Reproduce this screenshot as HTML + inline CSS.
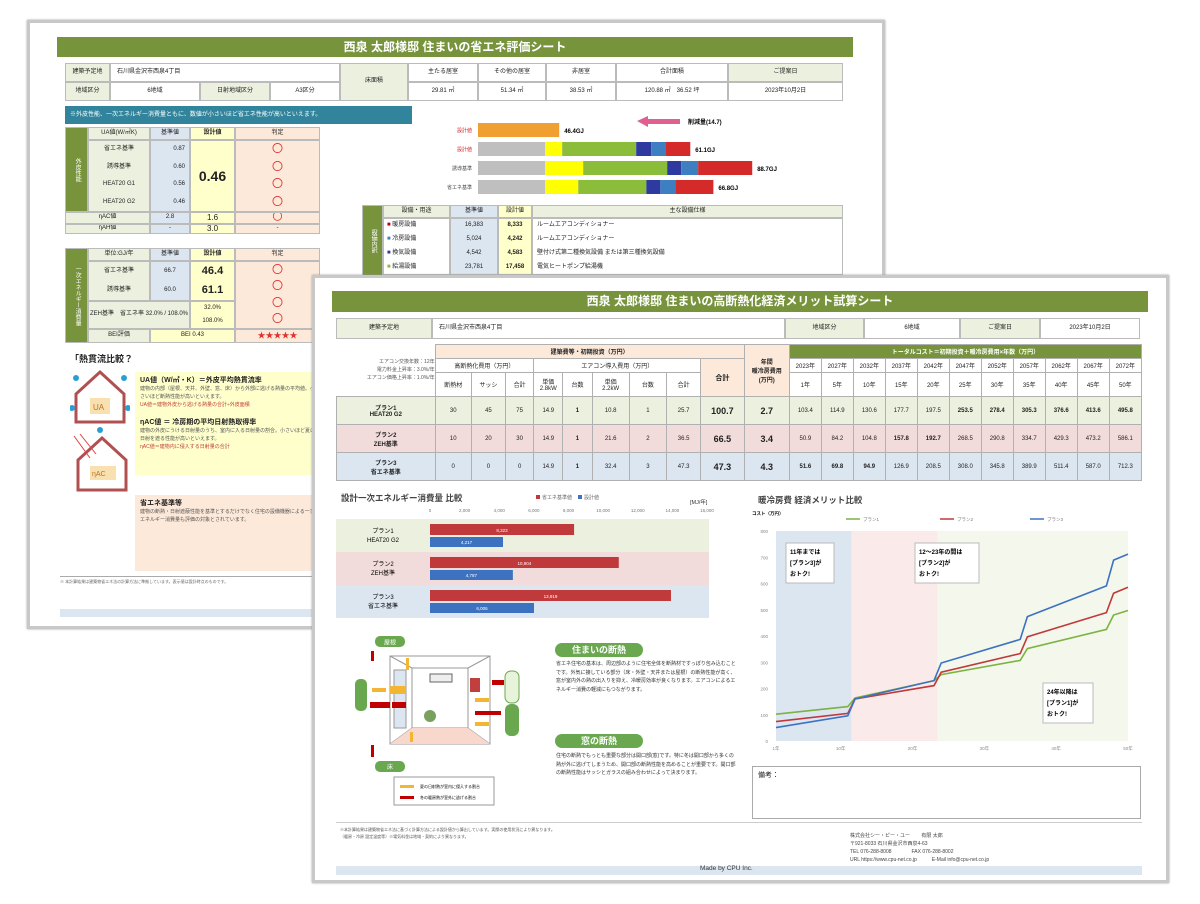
<!DOCTYPE html>
<html><head><meta charset="utf-8">
<style>
*{box-sizing:border-box;margin:0;padding:0}
body{width:1200px;height:904px;background:#fff;position:relative;overflow:hidden;font-family:"Liberation Sans","Noto Sans CJK JP",sans-serif;color:#222}
.a{position:absolute}
.sheet{position:absolute;background:#fff;border:3px solid #c8c8c8;box-shadow:0 0 2px #999}
.title{position:absolute;background:#77933c;color:#fff;font-weight:bold;text-align:center;font-size:12px;line-height:21px}
.c{position:absolute;border:1px solid #bbb;font-size:6px;line-height:1.2;display:flex;align-items:center;justify-content:center;text-align:center;overflow:hidden}
.g{background:#ebf1de}.p{background:#f2dcdb}.b{background:#dce6f1}.y{background:#ffffcc}.o{background:#fde9d9}.w{background:#fff}.dg{background:#77933c;color:#fff}
table{border-collapse:collapse;position:absolute;table-layout:fixed}
td{border:1px solid #b0b0b0;font-size:6px;text-align:center;overflow:hidden;white-space:nowrap}
.tx{font-size:5px;color:#555;line-height:8px}
.pill{position:absolute;background:#6aa84f;color:#fff;font-weight:bold;font-size:9px;border-radius:10px;text-align:center;line-height:14px}
</style></head><body>

<!-- BACK SHEET -->
<div class="sheet" style="left:27px;top:20px;width:858px;height:609px">
</div>
<div class="title" style="left:57px;top:37px;width:796px;height:20px;line-height:20px">西泉 太郎様邸 住まいの省エネ評価シート</div>
<div>
<div class="c g" style="left:65px;top:63px;width:45px;height:19px">建築予定地</div>
<div class="c w" style="left:110px;top:63px;width:230px;height:19px;justify-content:flex-start;padding-left:6px">石川県金沢市西泉4丁目</div>
<div class="c g" style="left:65px;top:82px;width:45px;height:19px">地域区分</div>
<div class="c w" style="left:110px;top:82px;width:90px;height:19px">6地域</div>
<div class="c g" style="left:200px;top:82px;width:70px;height:19px">日射地域区分</div>
<div class="c w" style="left:270px;top:82px;width:70px;height:19px">A3区分</div>
<div class="c g" style="left:340px;top:63px;width:68px;height:38px">床面積</div>
<div class="c w" style="left:408px;top:63px;width:70px;height:19px">主たる居室</div>
<div class="c w" style="left:478px;top:63px;width:68px;height:19px">その他の居室</div>
<div class="c w" style="left:546px;top:63px;width:70px;height:19px">非居室</div>
<div class="c w" style="left:616px;top:63px;width:112px;height:19px">合計面積</div>
<div class="c g" style="left:728px;top:63px;width:115px;height:19px">ご提案日</div>
<div class="c w" style="left:408px;top:82px;width:70px;height:19px">29.81 ㎡</div>
<div class="c w" style="left:478px;top:82px;width:68px;height:19px">51.34 ㎡</div>
<div class="c w" style="left:546px;top:82px;width:70px;height:19px">38.53 ㎡</div>
<div class="c w" style="left:616px;top:82px;width:112px;height:19px">120.88 ㎡　36.52 坪</div>
<div class="c w" style="left:728px;top:82px;width:115px;height:19px">2023年10月2日</div>
</div>
<div class="a" style="left:65px;top:106px;width:347px;height:18px;background:#31849b;color:#fff;font-size:6px;line-height:18px;padding-left:5px">※外皮性能、一次エネルギー消費量ともに、数値が小さいほど省エネ性能が高いといえます。</div>

<!-- back left table 1 -->
<div>
<div class="c dg" style="left:65px;top:127px;width:23px;height:85px;writing-mode:vertical-rl">外皮性能</div>
<div class="c g" style="left:88px;top:127px;width:62px;height:13px">UA値(W/㎡K)</div>
<div class="c b" style="left:150px;top:127px;width:40px;height:13px">基準値</div>
<div class="c y" style="left:190px;top:127px;width:45px;height:13px;font-weight:bold">設計値</div>
<div class="c o" style="left:235px;top:127px;width:85px;height:13px">判定</div>
<div class="c g" style="left:88px;top:140px;width:62px;height:72px;flex-direction:column;justify-content:space-around"><span>省エネ基準</span><span>誘導基準</span><span>HEAT20 G1</span><span>HEAT20 G2</span></div>
<div class="c b" style="left:150px;top:140px;width:40px;height:72px;flex-direction:column;justify-content:space-around;align-items:flex-end;padding-right:4px"><span>0.87</span><span>0.60</span><span>0.56</span><span>0.46</span></div>
<div class="c y" style="left:190px;top:140px;width:45px;height:72px;font-size:14px;font-weight:bold">0.46</div>
<div class="c o" style="left:235px;top:140px;width:85px;height:72px;flex-direction:column;justify-content:space-around;color:#e03030;font-size:11px"><span>〇</span><span>〇</span><span>〇</span><span>〇</span></div>
<div class="c g" style="left:65px;top:212px;width:85px;height:12px">ηAC値</div>
<div class="c b" style="left:150px;top:212px;width:40px;height:12px">2.8</div>
<div class="c y" style="left:190px;top:212px;width:45px;height:12px;font-size:8px">1.6</div>
<div class="c o" style="left:235px;top:212px;width:85px;height:12px;color:#e03030;font-size:10px">〇</div>
<div class="c g" style="left:65px;top:224px;width:85px;height:10px">ηAH値</div>
<div class="c b" style="left:150px;top:224px;width:40px;height:10px">-</div>
<div class="c y" style="left:190px;top:224px;width:45px;height:10px;font-size:8px">3.0</div>
<div class="c o" style="left:235px;top:224px;width:85px;height:10px">-</div>
</div>
<!-- back left table 2 -->
<div>
<div class="c dg" style="left:65px;top:248px;width:23px;height:95px;writing-mode:vertical-rl">一次エネルギー消費量</div>
<div class="c g" style="left:88px;top:248px;width:62px;height:13px">単位:GJ/年</div>
<div class="c b" style="left:150px;top:248px;width:40px;height:13px">基準値</div>
<div class="c y" style="left:190px;top:248px;width:45px;height:13px;font-weight:bold">設計値</div>
<div class="c o" style="left:235px;top:248px;width:85px;height:13px">判定</div>
<div class="c g" style="left:88px;top:261px;width:62px;height:40px;flex-direction:column;justify-content:space-around"><span>省エネ基準</span><span>誘導基準</span></div>
<div class="c b" style="left:150px;top:261px;width:40px;height:40px;flex-direction:column;justify-content:space-around"><span>66.7</span><span>60.0</span></div>
<div class="c y" style="left:190px;top:261px;width:45px;height:40px;flex-direction:column;justify-content:space-around;font-size:11px;font-weight:bold"><span>46.4</span><span>61.1</span></div>
<div class="c o" style="left:235px;top:261px;width:85px;height:68px;flex-direction:column;justify-content:space-around;color:#e03030;font-size:11px"><span>〇</span><span>〇</span><span>〇</span><span>〇</span></div>
<div class="c g" style="left:88px;top:301px;width:102px;height:28px">ZEH基準　省エネ率 32.0% / 108.0%</div>
<div class="c y" style="left:190px;top:301px;width:45px;height:28px;flex-direction:column;justify-content:space-around"><span>32.0%</span><span>108.0%</span></div>
<div class="c g" style="left:88px;top:329px;width:62px;height:14px">BEI評価</div>
<div class="c y" style="left:150px;top:329px;width:85px;height:14px">BEI 0.43</div>
<div class="c o" style="left:235px;top:329px;width:85px;height:14px;color:#e03030;font-size:8px">★★★★★</div>
</div>
<div class="a" style="left:70px;top:352px;font-size:9px;font-weight:bold">「熱貫流比較？</div>
<svg class="a" style="left:70px;top:368px" width="60" height="130">
<path d="M30 4 L54 26 L54 54 L6 54 L6 26Z" fill="#fff" stroke="#b05050" stroke-width="3"/>
<rect x="20" y="30" width="20" height="16" fill="#f8e0b0"/><text x="23" y="42" font-size="8" fill="#c07020">UA</text>
<g fill="#2a9fd6"><circle cx="6" cy="10" r="3"/><circle cx="54" cy="10" r="3"/><circle cx="2" cy="40" r="3"/><circle cx="58" cy="40" r="3"/><circle cx="30" cy="62" r="3"/></g>
<path d="M32 70 L56 92 L56 122 L8 122 L8 92Z" fill="#fff" stroke="#b05050" stroke-width="3"/>
<rect x="20" y="98" width="26" height="14" fill="#f8e0b0"/><text x="22" y="108" font-size="7" fill="#c07020">ηAC</text>
<g stroke="#e04040"><line x1="4" y1="68" x2="20" y2="90"/><line x1="10" y1="66" x2="26" y2="86"/></g>
</svg>
<div class="a y" style="left:135px;top:372px;width:185px;height:103px;padding:3px 5px">
<div style="font-size:7px;font-weight:bold">UA値（W/㎡・K）＝外皮平均熱貫流率</div>
<div class="tx">建物の内部（屋根、天井、外壁、窓、床）から外部に逃げる熱量の平均値。小さいほど断熱性能が高いといえます。</div>
<div class="tx" style="color:#c04040">UA値＝建物外皮から逃げる熱量の合計÷外皮面積</div>
<div style="font-size:7px;font-weight:bold;margin-top:8px">ηAC値 ＝ 冷房期の平均日射熱取得率</div>
<div class="tx">建物の外皮にうける日射量のうち、室内に入る日射量の割合。小さいほど夏の日射を遮る性能が高いといえます。</div>
<div class="tx" style="color:#c04040">ηAC値＝建物内に侵入する日射量の合計</div>
</div>
<div class="a o" style="left:135px;top:495px;width:185px;height:76px;padding:3px 5px">
<div style="font-size:7px;font-weight:bold">省エネ基準等</div>
<div class="tx">建物の断熱・日射遮蔽性能を基準とするだけでなく住宅の設備機器による一次エネルギー消費量も評価の対象とされています。</div>
</div>
<div class="a" style="left:60px;top:576px;width:260px;border-top:1px solid #aaa;font-size:4px;color:#666;line-height:7px;padding-top:1px">※ 本計算結果は建築物省エネ法の計算方法に準拠しています。表示値は設計時点のものです。</div>
<div class="a" style="left:60px;top:609px;width:260px;height:8px;background:#dce6f1"></div>

<!-- back right stacked bar chart -->
<svg class="a" style="left:0;top:0;overflow:visible" width="900" height="280" id="backbars"></svg>
<div>
<div class="c dg" style="left:362px;top:205px;width:21px;height:72px;writing-mode:vertical-rl">設備内訳</div>
<div class="c g" style="left:383px;top:205px;width:67px;height:13px">設備・用途</div>
<div class="c b" style="left:450px;top:205px;width:48px;height:13px">基準値</div>
<div class="c y" style="left:498px;top:205px;width:34px;height:13px">設計値</div>
<div class="c g" style="left:532px;top:205px;width:311px;height:13px">主な設備仕様</div>
<div class="c w" style="left:383px;top:218px;width:67px;height:57px;flex-direction:column;justify-content:space-around;align-items:flex-start;padding-left:3px">
<span><b style="color:#c00000">■</b> 暖房設備</span><span><b style="color:#3d7fc1">■</b> 冷房設備</span><span><b style="color:#2f3aa0">■</b> 換気設備</span><span><b style="color:#8bbc3a">■</b> 給湯設備</span></div>
<div class="c b" style="left:450px;top:218px;width:48px;height:57px;flex-direction:column;justify-content:space-around"><span>16,383</span><span>5,024</span><span>4,542</span><span>23,781</span></div>
<div class="c y" style="left:498px;top:218px;width:34px;height:57px;flex-direction:column;justify-content:space-around;font-weight:bold"><span>8,333</span><span>4,242</span><span>4,583</span><span>17,458</span></div>
<div class="c w" style="left:532px;top:218px;width:311px;height:57px;flex-direction:column;justify-content:space-around;align-items:flex-start;padding-left:4px"><span>ルームエアコンディショナー</span><span>ルームエアコンディショナー</span><span>壁付け式第二種換気設備 または第三種換気設備</span><span>電気ヒートポンプ給湯機</span></div>
</div>

<!-- FRONT SHEET -->
<div class="sheet" style="left:312px;top:275px;width:857px;height:608px"></div>
<div class="title" style="left:332px;top:291px;width:816px;height:21px">西泉 太郎様邸 住まいの高断熱化経済メリット試算シート</div>
<div>
<div class="c g" style="left:336px;top:318px;width:96px;height:21px">建築予定地</div>
<div class="c w" style="left:432px;top:318px;width:353px;height:21px;justify-content:flex-start;padding-left:6px">石川県金沢市西泉4丁目</div>
<div class="c g" style="left:785px;top:318px;width:79px;height:21px">地域区分</div>
<div class="c w" style="left:864px;top:318px;width:96px;height:21px">6地域</div>
<div class="c g" style="left:960px;top:318px;width:80px;height:21px">ご提案日</div>
<div class="c w" style="left:1040px;top:318px;width:100px;height:21px">2023年10月2日</div>
</div>

<table style="left:336px;top:344px;width:806px">
<colgroup><col style="width:98px"><col style="width:36px"><col style="width:34px"><col style="width:28px"><col style="width:29px"><col style="width:29px"><col style="width:37px"><col style="width:37px"><col style="width:34px"><col style="width:43px"><col style="width:45px"><col span="11" style="width:31.8px"></colgroup>
<tr style="height:14px"><td rowspan="3" style="border:none;font-size:5px;line-height:8px;white-space:normal;text-align:right;color:#555">エアコン交換年数：12年<br>電力料金上昇率：3.0%/年<br>エアコン価格上昇率：1.0%/年</td>
<td colspan="9" class="o" style="font-weight:bold">建築費等・初期投資（万円）</td><td rowspan="3" class="o" style="font-weight:bold;white-space:normal">年間<br>暖冷房費用<br>(万円)</td>
<td colspan="11" class="dg" style="font-weight:bold">トータルコスト＝初期投資＋暖冷房費用×年数（万円）</td></tr>
<tr style="height:14px"><td colspan="3" class="w">高断熱化費用（万円）</td><td colspan="5" class="w">エアコン導入費用（万円）</td><td rowspan="2" class="o" style="font-weight:bold;font-size:7px">合計</td>
<td class="w">2023年</td><td class="w">2027年</td><td class="w">2032年</td><td class="w">2037年</td><td class="w">2042年</td><td class="w">2047年</td><td class="w">2052年</td><td class="w">2057年</td><td class="w">2062年</td><td class="w">2067年</td><td class="w">2072年</td></tr>
<tr style="height:24px"><td class="w">断熱材</td><td class="w">サッシ</td><td class="w">合計</td><td class="w" style="white-space:normal">単価<br>2.8kW</td><td class="w">台数</td><td class="w" style="white-space:normal">単価<br>2.2kW</td><td class="w">台数</td><td class="w">合計</td>
<td class="w">1年</td><td class="w">5年</td><td class="w">10年</td><td class="w">15年</td><td class="w">20年</td><td class="w">25年</td><td class="w">30年</td><td class="w">35年</td><td class="w">40年</td><td class="w">45年</td><td class="w">50年</td></tr>
<tr style="height:28px" class="g"><td style="font-weight:bold">プラン1<br>HEAT20 G2</td><td>30</td><td>45</td><td>75</td><td>14.9</td><td><b>1</b></td><td>10.8</td><td>1</td><td>25.7</td><td style="font-size:9px;font-weight:bold">100.7</td><td style="font-size:9px;font-weight:bold">2.7</td><td>103.4</td><td>114.9</td><td>130.6</td><td>177.7</td><td>197.5</td><td><b>253.5</b></td><td><b>278.4</b></td><td><b>305.3</b></td><td><b>376.6</b></td><td><b>413.6</b></td><td><b>495.8</b></td></tr>
<tr style="height:28px" class="p"><td style="font-weight:bold">プラン2<br>ZEH基準</td><td>10</td><td>20</td><td>30</td><td>14.9</td><td><b>1</b></td><td>21.6</td><td>2</td><td>36.5</td><td style="font-size:9px;font-weight:bold">66.5</td><td style="font-size:9px;font-weight:bold">3.4</td><td>50.9</td><td>84.2</td><td>104.8</td><td><b>157.8</b></td><td><b>192.7</b></td><td>268.5</td><td>290.8</td><td>334.7</td><td>429.3</td><td>473.2</td><td>586.1</td></tr>
<tr style="height:28px" class="b"><td style="font-weight:bold">プラン3<br>省エネ基準</td><td>0</td><td>0</td><td>0</td><td>14.9</td><td><b>1</b></td><td>32.4</td><td>3</td><td>47.3</td><td style="font-size:9px;font-weight:bold">47.3</td><td style="font-size:9px;font-weight:bold">4.3</td><td><b>51.6</b></td><td><b>69.8</b></td><td><b>94.9</b></td><td>126.9</td><td>208.5</td><td>308.0</td><td>345.8</td><td>389.9</td><td>511.4</td><td>587.0</td><td>712.3</td></tr>
</table>

<!-- left energy chart -->
<div class="a" style="left:341px;top:492px;font-size:8.5px;font-weight:bold;color:#444">設計一次エネルギー消費量 比較</div>
<svg class="a" id="echart" style="left:330px;top:490px" width="390" height="135" viewBox="330 490 390 135"></svg>

<!-- diagram -->
<svg class="a" style="left:350px;top:636px" width="190" height="175" viewBox="0 0 190 175">
<rect x="25" y="0" width="30" height="11" rx="5" fill="#6aa84f"/><text x="40" y="8.5" font-size="6" fill="#fff" text-anchor="middle">屋根</text>
<rect x="25" y="125" width="30" height="11" rx="5" fill="#6aa84f"/><text x="40" y="133" font-size="6" fill="#fff" text-anchor="middle">床</text>
<rect x="5" y="43" width="12" height="32" rx="5" fill="#6aa84f"/>
<rect x="155" y="35" width="14" height="32" rx="6" fill="#e8f3dc" stroke="#6aa84f"/>
<rect x="155" y="68" width="14" height="32" rx="6" fill="#6aa84f"/>
<path d="M40 20 L140 20 L140 108 L40 108Z" fill="#fff" stroke="#999"/>
<path d="M62 32 L118 32 L118 92 L62 92Z" fill="none" stroke="#999"/>
<line x1="40" y1="20" x2="62" y2="32" stroke="#999"/><line x1="140" y1="20" x2="118" y2="32" stroke="#999"/>
<line x1="40" y1="108" x2="62" y2="92" stroke="#999"/><line x1="140" y1="108" x2="118" y2="92" stroke="#999"/>
<path d="M40 108 L62 92 L118 92 L140 108Z" fill="#f8d8cc"/>
<rect x="44" y="34" width="12" height="58" fill="#dce6f1" stroke="#999"/>
<rect x="80" y="38" width="22" height="8" fill="#eee" stroke="#666"/>
<circle cx="80" cy="80" r="6" fill="#7aa060"/>
<g fill="#f2b632"><rect x="22" y="52" width="14" height="4"/><rect x="40" y="50" width="16" height="8"/><rect x="125" y="62" width="14" height="4"/><rect x="125" y="86" width="14" height="4"/><rect x="56" y="22" width="3" height="12"/><rect x="60" y="96" width="3" height="10"/></g>
<g fill="#c00000"><rect x="20" y="66" width="20" height="6"/><rect x="42" y="66" width="14" height="6"/><rect x="142" y="44" width="12" height="5"/><rect x="125" y="75" width="26" height="4"/><rect x="21" y="15" width="3" height="10"/><rect x="21" y="109" width="3" height="12"/></g>
<rect x="120" y="42" width="10" height="14" fill="#c04040"/>
<rect x="44" y="141" width="100" height="28" fill="#fff" stroke="#999"/>
<rect x="50" y="149" width="14" height="3" fill="#f2b632"/><text x="70" y="152" font-size="4">夏の日射熱が室内に侵入する割合</text>
<rect x="50" y="160" width="14" height="3" fill="#c00000"/><text x="70" y="163" font-size="4">冬の暖房熱が室外に逃げる割合</text>
</svg>
<div class="pill" style="left:555px;top:643px;width:88px">住まいの断熱</div>
<div class="a tx" style="left:556px;top:660px;width:180px;font-size:5px;line-height:8.5px;color:#333">省エネ住宅の基本は、周辺部のように住宅全体を断熱材ですっぽり包み込むことです。外気に接している部分（床・外壁・天井または屋根）の断熱性能が高く、窓が室内外の熱の出入りを抑え、冷暖房効率が良くなります。エアコンによるエネルギー消費の軽減にもつながります。</div>
<div class="pill" style="left:555px;top:734px;width:88px">窓の断熱</div>
<div class="a tx" style="left:556px;top:752px;width:180px;font-size:5px;line-height:8.5px;color:#333">住宅の断熱でもっとも重要な部分は開口部(窓)です。特に冬は開口部から多くの熱が外に逃げてしまうため、開口部の断熱性能を高めることが重要です。開口部の断熱性能はサッシとガラスの組み合わせによって決まります。</div>

<!-- right line chart -->
<div class="a" style="left:758px;top:494px;font-size:8.5px;font-weight:bold;color:#444">暖冷房費 経済メリット比較</div>
<svg class="a" id="lchart" style="left:745px;top:505px" width="405" height="250" viewBox="745 505 405 250"></svg>

<div class="a" style="left:752px;top:766px;width:389px;height:53px;border:1px solid #aaa;font-size:7px;padding:3px 5px">備考：</div>
<div class="a" style="left:340px;top:826px;width:420px;font-size:4px;color:#555;line-height:7px">※本計算結果は建築物省エネ法に基づく計算方法による設計値から算出しています。実際の使用状況により異なります。<br>（暖房・冷房 設定温度等）※電気料金は地域・契約により異なります。</div>
<div class="a" style="left:336px;top:822px;width:806px;height:1px;background:#ccc"></div>
<div class="a" style="left:850px;top:832px;font-size:5px;line-height:8px;color:#444">株式会社シー・ピー・ユー　　 有限 太郎<br>〒921-8033 石川県金沢市西泉4-63<br>TEL 076-288-8008　　　　FAX 076-288-8002<br>URL https://www.cpu-net.co.jp　　　E-Mail info@cpu-net.co.jp</div>
<div class="a" style="left:336px;top:866px;width:806px;height:9px;background:#dce6f1"></div>
<div class="a" style="left:700px;top:865px;font-size:6.5px;color:#333">Made by CPU Inc.</div>

<script>
var NS='http://www.w3.org/2000/svg';
function mk(p,t,a){var e=document.createElementNS(NS,t);for(var k in a)e.setAttribute(k,a[k]);p.appendChild(e);return e;}

// ---- back stacked bars ----
var backCats=['削減量','設計値','誘導基準','省エネ基準'];
var backGray=[0,38.4,38.4,38.4];
var backYellow=[0,9.7,21.7,18.9];
var backGreen=[46.4,42.3,48.0,38.9];
var backNavy=[0,8.6,8.0,8.0];
var backBlue=[0,8.0,9.7,8.6];
var backRed=[0,14.3,30.9,21.7];
var backTotals=['46.4GJ','61.1GJ','88.7GJ','66.8GJ'];
var bb=document.getElementById('backbars');
var bx0=478,bpx=1.75,by0=123,bstep=19;
var segCols=['#bfbfbf','#ffff00','#8bbc3a','#2f3aa0','#3d7fc1','#d42a2a'];
var segArr=[backGray,backYellow,backGreen,backNavy,backBlue,backRed];
for(var i=0;i<backCats.length;i++){
  var x=bx0,y=by0+i*bstep;
  for(var s=0;s<segArr.length;s++){
    var w=segArr[s][i]*bpx; if(w<=0)continue;
    var col=(i==0)?'#f0a030':segCols[s];
    var r=mk(bb,'rect',{x:x,y:y,width:w,height:14,fill:col});
    
    
    x+=w;
  }
  var t=mk(bb,'text',{x:x+5,y:y+10,'font-size':6,'font-weight':'bold'});t.textContent=backTotals[i];
  
  
  var l=mk(bb,'text',{x:bx0-6,y:y+9,'font-size':5,'text-anchor':'end',fill:i<2?'#d02020':'#444'});l.textContent=backCats[i]==='削減量'?'設計値':backCats[i];
  
  
}
mk(bb,'path',{d:'M637 121 L648 116 L648 119 L680 119 L680 124 L648 124 L648 127Z',fill:'#e06090'});
var at=mk(bb,'text',{x:688,y:124,'font-size':6,'font-weight':'bold'});at.textContent='削減量(14.7)';

// ---- energy bar chart ----
var eCats=['プラン1|HEAT20 G2','プラン2|ZEH基準','プラン3|省エネ基準'];
var eBase=[8323,10904,13919];
var eDesign=[4217,4787,6006];
var eTicks=[0,2000,4000,6000,8000,10000,12000,14000,16000];
var eLabels=['8,323','10,904','13,919'];
var dLabels=['4,217','4,787','6,006'];
var ec=document.getElementById('echart');
var ex0=430,ex1=707;
function ex(v){return ex0+(v/16000)*(ex1-ex0);}
var bands=['#ebf1de','#f2dcdb','#dce6f1'];
for(var i=0;i<eCats.length;i++){
  var y=519+i*33;
  var bg=mk(ec,'rect',{x:336,y:y,width:373,height:33,fill:bands[i]});
  
  
  var parts=eCats[i].split('|');
  var t1=mk(ec,'text',{x:383,y:y+14,'font-size':6,'text-anchor':'middle'});t1.textContent=parts[0];
  var t2=mk(ec,'text',{x:383,y:y+23,'font-size':6,'text-anchor':'middle'});t2.textContent=parts[1];
  var r1=mk(ec,'rect',{x:ex0,y:y+5,width:ex(eBase[i])-ex0,height:11,fill:'#c0393b'});
  
  
  var r2=mk(ec,'rect',{x:ex0,y:y+18,width:ex(eDesign[i])-ex0,height:10,fill:'#3d72c0'});
  
  
  var v1=mk(ec,'text',{x:(ex0+ex(eBase[i]))/2,y:y+13,'font-size':4.5,fill:'#fff','text-anchor':'middle'});v1.textContent=eLabels[i];
  var v2=mk(ec,'text',{x:(ex0+ex(eDesign[i]))/2,y:y+25,'font-size':4.5,fill:'#fff','text-anchor':'middle'});v2.textContent=dLabels[i];
}
for(var k=0;k<eTicks.length;k++){
  var tt=mk(ec,'text',{x:ex(eTicks[k]),y:512,'font-size':4.5,fill:'#777','text-anchor':'middle'});tt.textContent=eTicks[k].toLocaleString();
  
  
}
mk(ec,'rect',{x:536,y:495,width:4,height:4,fill:'#c0393b'});
var lg1=mk(ec,'text',{x:542,y:499,'font-size':5,fill:'#666'});lg1.textContent='省エネ基準値';
mk(ec,'rect',{x:578,y:495,width:4,height:4,fill:'#3d72c0'});
var lg2=mk(ec,'text',{x:584,y:499,'font-size':5,fill:'#666'});lg2.textContent='設計値';
var un=mk(ec,'text',{x:690,y:504,'font-size':5.5,fill:'#333'});un.textContent='[MJ/年]';

// ---- line chart ----
var years=[1,11,12,23,24,35,36,47,48,50];
var plan1=[102,131,164,230,253,307,352,425,480,497];
var plan2=[74,105,160,211,262,333,397,489,563,586];
var plan3=[51,96,160,230,297,387,474,591,689,712];
var yTicks=[0,100,200,300,400,500,600,700,800];
var xTicks=[1,10,20,30,40,50];
var lc=document.getElementById('lchart');
var lx0=776,lx1=1128,ly0=741,ly1=531;
function lx(v){return lx0+(v-1)/49*(lx1-lx0);}
function ly(v){return ly0-(v/800)*(ly0-ly1);}
var rb=mk(lc,'rect',{x:lx(1),y:ly1,width:lx(11.5)-lx(1),height:ly0-ly1,fill:'#dce6f1'});


var rp=mk(lc,'rect',{x:lx(11.5),y:ly1,width:lx(23.5)-lx(11.5),height:ly0-ly1,fill:'#fbeaea'});


var rg=mk(lc,'rect',{x:lx(23.5),y:ly1,width:lx(50)-lx(23.5),height:ly0-ly1,fill:'#f3f7ec'});


for(var k=0;k<yTicks.length;k++){
  var t=mk(lc,'text',{x:lx0-8,y:ly(yTicks[k])+2,'font-size':4.5,fill:'#888','text-anchor':'end'});t.textContent=yTicks[k];
  
  
}
for(var k=0;k<xTicks.length;k++){
  var t=mk(lc,'text',{x:lx(xTicks[k]),y:ly0+9,'font-size':4.5,fill:'#888','text-anchor':'middle'});t.textContent=xTicks[k]+'年';
  
  
}
var yt=mk(lc,'text',{x:752,y:515,'font-size':4.5,'font-weight':'bold'});yt.textContent='コスト（万円）';
function line(arr,col,name){
  var d='';for(var i=0;i<years.length;i++)d+=(i?'L':'M')+lx(years[i]).toFixed(1)+' '+ly(arr[i]).toFixed(1);
  var p=mk(lc,'path',{d:d,fill:'none',stroke:col,'stroke-width':1.6});
  
  
}
line(plan1,'#7cb342','line-plan1');
line(plan2,'#c0393b','line-plan2');
line(plan3,'#3d72c0','line-plan3');
var legs=[['プラン1','#7cb342',846],['プラン2','#c0393b',940],['プラン3','#3d72c0',1030]];
for(var i=0;i<legs.length;i++){
  mk(lc,'line',{x1:legs[i][2],y1:519,x2:legs[i][2]+14,y2:519,stroke:legs[i][1],'stroke-width':1.5});
  var t=mk(lc,'text',{x:legs[i][2]+17,y:521,'font-size':4.5,fill:'#777'});t.textContent=legs[i][0];
  
  
}
var notes=[[786,543,'11年までは','[プラン3]が','おトク!',48],[915,543,'12～23年の間は','[プラン2]が','おトク!',64],[1043,683,'24年以降は','[プラン1]が','おトク!',50]];
for(var i=0;i<notes.length;i++){
  var n=notes[i];
  var r=mk(lc,'rect',{x:n[0],y:n[1],width:n[5],height:40,fill:'#fff',stroke:'#bbb'});
  
  
  for(var j=0;j<3;j++){var t=mk(lc,'text',{x:n[0]+4,y:n[1]+11+j*11,'font-size':6,'font-weight':'bold'});t.textContent=n[2+j];}
}
</script>
</body></html>
